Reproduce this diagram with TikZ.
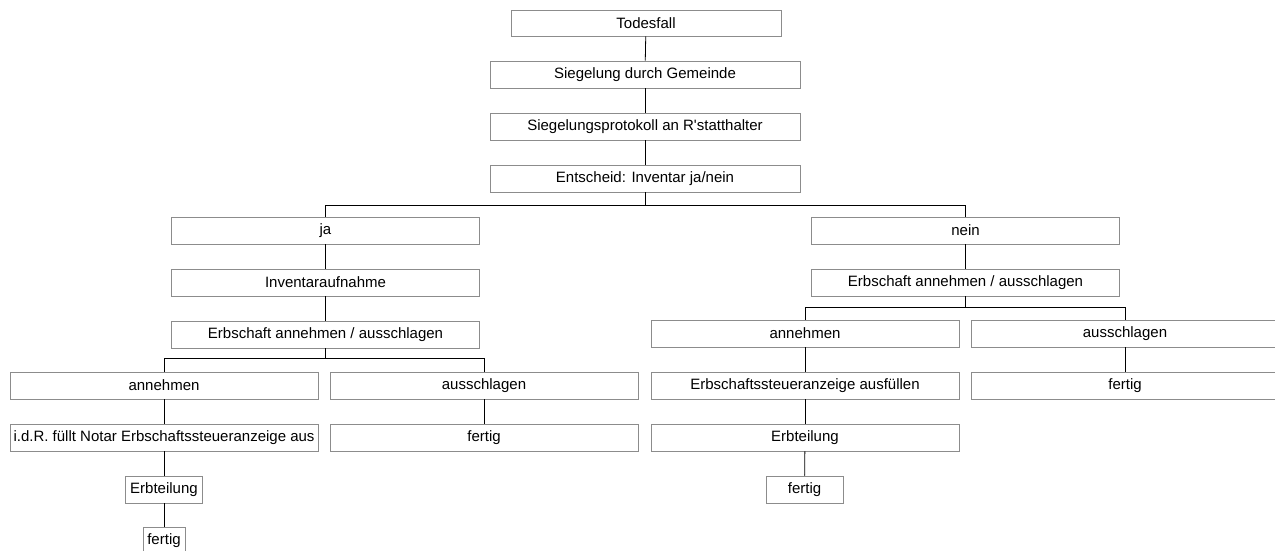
\documentclass[tikz,border=0pt]{standalone}
\usepackage{fontspec}
\setmainfont{Liberation Sans}
\usetikzlibrary{positioning}

\begin{document}
\begin{tikzpicture}[x=1pt,y=1pt,box/.style={draw=black!45,line width=.8pt,fill=white,minimum width=308pt,minimum height=27pt,inner sep=2pt,font=\fontsize{15}{17}\selectfont},small/.style={box,minimum width=77pt},a/.style={draw=black,line width=.8pt}]
\useasboundingbox (0,0) rectangle (1275,550);
\node[box,minimum width=270pt,minimum height=26pt] (tod) at (646,527) {Todesfall};
\node[box,minimum width=310pt] (sieg) at (645,475.5) {Siegelung durch Gemeinde};
\node[box,minimum width=310pt] (prot) at (645,423.5) {Siegelungsprotokoll an R\textquotesingle statthalter};
\node[box,minimum width=310pt] (ent) at (645,371.5) {Entscheid: Inventar ja/nein};
\coordinate (b1) at (645,345);
% ja-Zweig
\node[box] (ja) at (325.5,319.5) {ja};
\node[box] (inv) at (325.5,267.5) {Inventaraufnahme};
\node[box] (erbL) at (325.5,215.5) {Erbschaft annehmen / ausschlagen};
\coordinate (b2) at (325.5,192);
\node[box] (annL) at (164,164.5) {annehmen};
\node[box] (ausL) at (484,164.5) {ausschlagen};
\node[box] (idr) at (164,112.5) {i.d.R. füllt Notar Erbschaftssteueranzeige aus};
\node[box] (fertL) at (484,112.5) {fertig};
\node[small] (erbtL) at (164,60.5) {Erbteilung};
\node[box,minimum width=42pt] (endL) at (164,9.5) {fertig};
% nein-Zweig
\node[box] (nein) at (965.5,319.5) {nein};
\node[box] (erbR) at (965.5,267.5) {Erbschaft annehmen / ausschlagen};
\coordinate (b3) at (965.5,243);
\node[box] (annR) at (805,216.5) {annehmen};
\node[box] (ausR) at (1125,216.5) {ausschlagen};
\node[box] (steuer) at (805,164.5) {Erbschaftssteueranzeige ausfüllen};
\node[box] (fertR) at (1125,164.5) {fertig};
\node[box] (erbtR) at (805,112.5) {Erbteilung};
\node[small] (endR) at (804.5,60.5) {fertig};
% Linien
\draw[a] (tod)--(sieg); \draw[a] (sieg)--(prot); \draw[a] (prot)--(ent);
\draw[a] (ent.south)--(b1); \draw[a] (b1)-|(ja.north); \draw[a] (b1)-|(nein.north);
\draw[a] (ja)--(inv); \draw[a] (inv)--(erbL);
\draw[a] (erbL.south)--(b2); \draw[a] (b2)-|(annL.north); \draw[a] (b2)-|(ausL.north);
\draw[a] (annL)--(idr); \draw[a] (ausL)--(fertL); \draw[a] (idr)--(erbtL); \draw[a] (erbtL)--(endL);
\draw[a] (nein)--(erbR);
\draw[a] (erbR.south)--(b3); \draw[a] (b3)-|(annR.north); \draw[a] (b3)-|(ausR.north);
\draw[a] (annR)--(steuer); \draw[a] (ausR)--(fertR); \draw[a] (steuer)--(erbtR); \draw[a] (erbtR)--(endR);
\end{tikzpicture}
\end{document}
